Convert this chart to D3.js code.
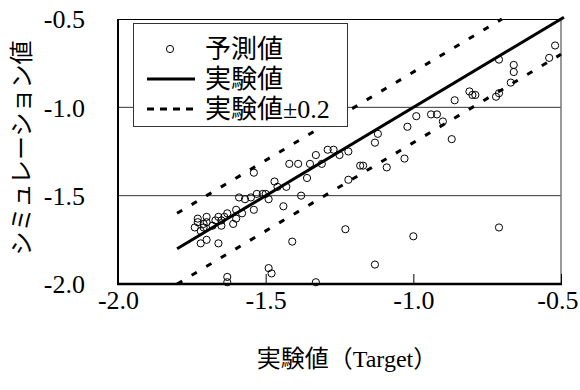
<!DOCTYPE html>
<html>
<head>
<meta charset="utf-8">
<script src="https://cdn.jsdelivr.net/npm/d3@7"></script>
<style>
  body { margin: 0; background: #fff; }
</style>
</head>
<body>
<div id="chart"></div>
<script>
const targetValues = [
  -1.73, -1.73, -1.74, -1.72, -1.71, -1.70, -1.70, -1.68, -1.66, -1.65,
  -1.64, -1.63, -1.65, -1.61, -1.60, -1.60, -1.58, -1.59, -1.57, -1.54,
  -1.54, -1.55, -1.53, -1.51, -1.50, -1.49, -1.47, -1.46, -1.44, -1.43,
  -1.42, -1.39, -1.36, -1.35, -1.38, -1.33, -1.31, -1.29, -1.27, -1.25,
  -1.22, -1.22, -1.72, -1.70, -1.66, -1.41, -1.49, -1.48, -1.63, -1.63,
  -1.33, -1.23, -1.00, -0.71, -1.13, -1.18, -1.17, -1.09, -1.03, -1.13,
  -1.12, -1.02, -0.99, -0.94, -0.92, -0.90, -0.87, -0.86, -0.81, -0.80,
  -0.79, -0.72, -0.71, -0.71, -0.66, -0.66, -0.67, -0.54, -0.52, -1.71,
  -1.67
];
const simValues = [
  -1.63, -1.65, -1.68, -1.70, -1.68, -1.62, -1.65, -1.67, -1.62, -1.64,
  -1.62, -1.60, -1.67, -1.66, -1.63, -1.58, -1.60, -1.51, -1.52, -1.37,
  -1.58, -1.51, -1.49, -1.49, -1.49, -1.52, -1.42, -1.45, -1.56, -1.45,
  -1.32, -1.32, -1.40, -1.32, -1.50, -1.27, -1.32, -1.24, -1.24, -1.27,
  -1.25, -1.41, -1.77, -1.75, -1.77, -1.76, -1.91, -1.94, -1.96, -1.99,
  -1.99, -1.69, -1.73, -1.68, -1.89, -1.33, -1.33, -1.34, -1.29, -1.20,
  -1.15, -1.11, -1.05, -1.04, -1.04, -1.08, -1.18, -0.96, -0.91, -0.93,
  -0.93, -0.94, -0.92, -0.73, -0.76, -0.80, -0.86, -0.72, -0.65, -1.66,
  -1.64
];

const xTicks = [-2.0, -1.5, -1.0, -0.5];
const yTicks = [-2.0, -1.5, -1.0, -0.5];
const gridValues = [-1.5, -1.0];

// reference lines (experiment value, and +/- 0.2)
const exactLine = [[-1.8, -1.8], [-0.49, -0.49]];
const upperLine = [[-1.8, -1.6], [-0.7, -0.5]];
const lowerLine = [[-1.8, -2.0], [-0.5, -0.7]];

const legendLabels = ['予測値', '実験値', '実験値±0.2'];

const fontFamily = '"Times New Roman", "Liberation Serif", "Noto Sans CJK JP", serif';

const width = 580, height = 390;
const margin = { top: 19, right: 19, bottom: 106, left: 118 };
const innerW = width - margin.left - margin.right;
const innerH = height - margin.top - margin.bottom;

const svg = d3.select('#chart').append('svg')
  .attr('width', width)
  .attr('height', height)
  .style('font-family', fontFamily);

const chart = svg.append('g')
  .attr('transform', `translate(${margin.left},${margin.top})`);

const x = d3.scaleLinear().domain([-2.0, -0.5]).range([0, innerW]);
const y = d3.scaleLinear().domain([-2.0, -0.5]).range([innerH, 0]);

// horizontal grid lines
chart.selectAll('.grid')
  .data(gridValues)
  .join('line')
  .attr('class', 'grid')
  .attr('x1', 0).attr('x2', innerW)
  .attr('y1', d => y(d)).attr('y2', d => y(d))
  .attr('stroke', '#333')
  .attr('stroke-width', 1);

// top and right border
chart.append('line')
  .attr('x1', 0).attr('x2', innerW).attr('y1', 0.5).attr('y2', 0.5)
  .attr('stroke', '#000').attr('stroke-width', 1);
chart.append('line')
  .attr('x1', innerW).attr('x2', innerW).attr('y1', 0).attr('y2', innerH)
  .attr('stroke', '#777').attr('stroke-width', 1.5);

// data points
chart.selectAll('.pt')
  .data(targetValues.map((t, i) => [t, simValues[i]]))
  .join('circle')
  .attr('class', 'pt')
  .attr('cx', d => x(d[0]))
  .attr('cy', d => y(d[1]))
  .attr('r', 3.6)
  .attr('fill', 'none')
  .attr('stroke', '#000')
  .attr('stroke-width', 1);

const line = d3.line().x(d => x(d[0])).y(d => y(d[1]));

chart.append('path')
  .attr('d', line(exactLine))
  .attr('fill', 'none')
  .attr('stroke', '#000')
  .attr('stroke-width', 3);

[upperLine, lowerLine].forEach(l => {
  chart.append('path')
    .attr('d', line(l))
    .attr('fill', 'none')
    .attr('stroke', '#000')
    .attr('stroke-width', 3)
    .attr('stroke-dasharray', '6,11');
});

// x axis, ticks pointing inwards
const xAxis = chart.append('g')
  .attr('transform', `translate(0,${innerH})`)
  .call(d3.axisBottom(x).tickValues(xTicks).tickSize(-10).tickPadding(7)
    .tickFormat(d => d.toFixed(1)));
xAxis.attr('font-family', null);
xAxis.select('.domain').remove();
xAxis.selectAll('.tick line').attr('stroke', '#000').attr('stroke-width', 1);
xAxis.selectAll('text')
  .style('font-family', fontFamily)
  .style('font-size', '26px')
  .attr('text-anchor', d => d === -0.5 ? 'end' : 'middle')
  .attr('x', d => d === -0.5 ? 17 : 0);

const yAxis = chart.append('g')
  .call(d3.axisLeft(y).tickValues(yTicks).tickSize(0).tickPadding(33)
    .tickFormat(d => d.toFixed(1)));
yAxis.attr('font-family', null);
yAxis.select('.domain').remove();
yAxis.selectAll('text')
  .style('font-family', fontFamily)
  .style('font-size', '26px')
  .attr('dy', '0.34em');

// axis lines
chart.append('line')
  .attr('x1', 0).attr('x2', 0).attr('y1', 0).attr('y2', innerH + 1)
  .attr('stroke', '#000').attr('stroke-width', 2);
chart.append('line')
  .attr('x1', -1).attr('x2', innerW + 1).attr('y1', innerH).attr('y2', innerH)
  .attr('stroke', '#000').attr('stroke-width', 2.5);

// axis titles
svg.append('text')
  .attr('x', 347)
  .attr('y', 367)
  .attr('text-anchor', 'middle')
  .style('font-size', '24px')
  .text('実験値（Target）');

svg.append('text')
  .attr('transform', 'translate(22,148) rotate(-90)')
  .attr('text-anchor', 'middle')
  .attr('dy', '0.35em')
  .style('font-size', '24px')
  .text('シミュレーション値');

// legend
const legend = svg.append('g').attr('class', 'legend');
legend.append('rect')
  .attr('x', 133.5).attr('y', 23.5)
  .attr('width', 214).attr('height', 103)
  .attr('fill', '#fff')
  .attr('stroke', '#333')
  .attr('stroke-width', 1);

const rowY = [49, 79, 109];
legend.append('circle')
  .attr('cx', 170).attr('cy', rowY[0]).attr('r', 3.6)
  .attr('fill', 'none').attr('stroke', '#000');
legend.append('line')
  .attr('x1', 147).attr('x2', 195).attr('y1', rowY[1]).attr('y2', rowY[1])
  .attr('stroke', '#000').attr('stroke-width', 3);
legend.append('line')
  .attr('x1', 147).attr('x2', 195).attr('y1', rowY[2]).attr('y2', rowY[2])
  .attr('stroke', '#000').attr('stroke-width', 3)
  .attr('stroke-dasharray', '7,6');

legend.selectAll('.legend-label')
  .data(legendLabels)
  .join('text')
  .attr('class', 'legend-label')
  .attr('x', 205)
  .attr('y', (d, i) => rowY[i])
  .attr('dy', '0.36em')
  .style('font-size', '26px')
  .text(d => d);
</script>
</body>
</html>
